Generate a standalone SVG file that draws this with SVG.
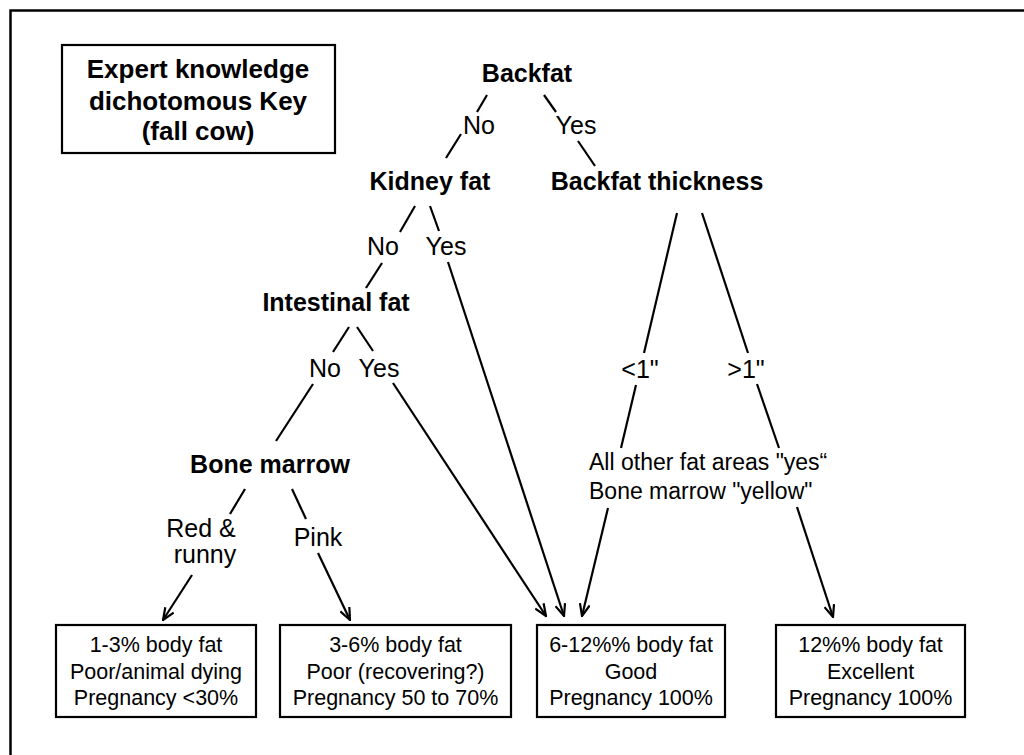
<svg xmlns="http://www.w3.org/2000/svg" width="1024" height="755" viewBox="0 0 1024 755">
<defs>
<style>
.b{font-family:"Liberation Sans",Arial,sans-serif;font-weight:bold;font-size:25px;fill:#000;text-anchor:middle}
.t{font-family:"Liberation Sans",Arial,sans-serif;font-weight:bold;font-size:26px;fill:#000;text-anchor:middle}
.n{font-family:"Liberation Sans",Arial,sans-serif;font-size:25px;fill:#000;text-anchor:middle}
.m{font-family:"Liberation Sans",Arial,sans-serif;font-size:23px;fill:#000}
.s{font-family:"Liberation Sans",Arial,sans-serif;font-size:21.5px;fill:#000;text-anchor:middle}
.box{fill:#fff;stroke:#000;stroke-width:2.2}
.ln{stroke:#000;stroke-width:2.2;fill:none}
.ar{stroke:#000;stroke-width:2.2;fill:none;marker-end:url(#ah)}
</style>
<marker id="ah" viewBox="0 0 14 12" refX="13" refY="6" markerWidth="14" markerHeight="12" markerUnits="userSpaceOnUse" orient="auto">
<path d="M1,1 L13,6 L1,11" fill="none" stroke="#000" stroke-width="2.2"/>
</marker>
</defs>
<rect width="1024" height="755" fill="#fff"/>
<path d="M10.5,755 L10.5,10.5 L1024,10.5" fill="none" stroke="#000" stroke-width="2.5"/>

<g id="title">
<rect class="box" x="62" y="45" width="273" height="108"/>
<text class="t" x="198" y="78">Expert knowledge</text>
<text class="t" x="198" y="110">dichotomous Key</text>
<text class="t" x="198" y="140">(fall cow)</text>
</g>

<g id="backfat"><text class="b" x="527" y="82">Backfat</text></g>
<g id="kidney"><text class="b" x="430" y="190">Kidney fat</text></g>
<g id="thickness"><text class="b" x="657" y="190">Backfat thickness</text></g>
<g id="intestinal"><text class="b" x="336" y="311">Intestinal fat</text></g>
<g id="bonemarrow"><text class="b" x="270" y="473">Bone marrow</text></g>

<g id="labels">
<text class="n" x="479" y="134">No</text>
<text class="n" x="576" y="134">Yes</text>
<text class="n" x="383" y="255">No</text>
<text class="n" x="446" y="255">Yes</text>
<text class="n" x="325" y="377">No</text>
<text class="n" x="379" y="377">Yes</text>
<text class="n" x="640" y="378">&lt;1"</text>
<text class="n" x="746" y="378">&gt;1"</text>
<text class="n" x="201" y="537">Red &amp;</text>
<text class="n" x="205" y="563">runny</text>
<text class="n" x="318" y="546">Pink</text>
</g>

<g id="allother">
<text class="m" x="589" y="470">All other fat areas "yes“</text>
<text class="m" x="589" y="499">Bone marrow "yellow"</text>
</g>

<g id="box1">
<rect class="box" x="56" y="625" width="200" height="92"/>
<text class="s" x="156" y="652">1-3% body fat</text>
<text class="s" x="156" y="679">Poor/animal dying</text>
<text class="s" x="156" y="705">Pregnancy &lt;30%</text>
</g>
<g id="box2">
<rect class="box" x="280" y="625" width="231" height="92"/>
<text class="s" x="395.5" y="652">3-6% body fat</text>
<text class="s" x="395.5" y="679">Poor (recovering?)</text>
<text class="s" x="395.5" y="705">Pregnancy 50 to 70%</text>
</g>
<g id="box3">
<rect class="box" x="537" y="625" width="188" height="92"/>
<text class="s" x="631" y="652">6-12%% body fat</text>
<text class="s" x="631" y="679">Good</text>
<text class="s" x="631" y="705">Pregnancy 100%</text>
</g>
<g id="box4">
<rect class="box" x="776" y="625" width="189" height="92"/>
<text class="s" x="870.5" y="652">12%% body fat</text>
<text class="s" x="870.5" y="679">Excellent</text>
<text class="s" x="870.5" y="705">Pregnancy 100%</text>
</g>

<g id="connectors">
<line class="ln" x1="487" y1="95" x2="477" y2="112"/>
<line class="ln" x1="544" y1="95" x2="556" y2="112"/>
<line class="ln" x1="461" y1="134" x2="446" y2="158"/>
<line class="ln" x1="578" y1="141" x2="595" y2="166"/>
<line class="ln" x1="415" y1="206" x2="400" y2="232"/>
<line class="ln" x1="430" y1="206" x2="439" y2="231"/>
<line class="ln" x1="382" y1="263" x2="366" y2="288"/>
<line class="ar" x1="448" y1="262" x2="564" y2="616"/>
<line class="ln" x1="349" y1="327" x2="333" y2="352"/>
<line class="ln" x1="357" y1="327" x2="373" y2="351"/>
<line class="ln" x1="313" y1="384" x2="276" y2="441"/>
<line class="ar" x1="393" y1="383" x2="546" y2="616"/>
<line class="ln" x1="677" y1="213" x2="644" y2="353"/>
<line class="ln" x1="702" y1="213" x2="748" y2="353"/>
<line class="ln" x1="636" y1="385" x2="621" y2="448"/>
<line class="ln" x1="757" y1="384" x2="779" y2="448"/>
<line class="ar" x1="608" y1="508" x2="582" y2="616"/>
<line class="ar" x1="797" y1="507" x2="833" y2="617"/>
<line class="ln" x1="245" y1="489" x2="230" y2="514"/>
<line class="ln" x1="292" y1="489" x2="306" y2="519"/>
<line class="ar" x1="192" y1="575" x2="163" y2="620"/>
<line class="ar" x1="318" y1="553" x2="350" y2="620"/>
</g>
</svg>
